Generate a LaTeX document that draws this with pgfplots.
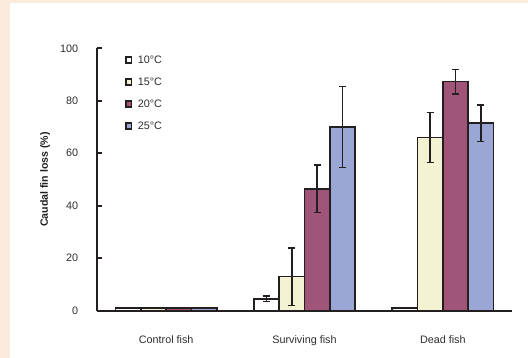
\documentclass[border=0pt]{standalone}
\usepackage{pgfplots}
\pgfplotsset{compat=1.18}
\usepackage{fontspec}
\setmainfont{Liberation Sans}
\definecolor{peach}{HTML}{FBEBDC}
\definecolor{edge}{HTML}{231F20}
\definecolor{cA}{HTML}{FFFFFF}
\definecolor{cB}{HTML}{F3F3D3}
\definecolor{cC}{HTML}{A05478}
\definecolor{cD}{HTML}{9AA6D3}
\definecolor{txt}{HTML}{2E2E2E}
\begin{document}
\begin{tikzpicture}[x=1pt,y=1pt]
\fill[peach] (0,0) rectangle (528,358);
\useasboundingbox (0,0) rectangle (528,358);
\fill[white] (9.5,0) rectangle (528,355);
\begin{axis}[
  at={(97pt,47.3pt)}, anchor=south west,
  scale only axis, width=415pt, height=262.4pt,
  xmin=-0.5, xmax=2.5, ymin=0, ymax=100,
  axis x line=bottom, axis y line=left,
  axis line style={-, line width=1.7pt, draw=edge},
  ytick={0,20,40,60,80,100},
  xtick={0,1,2},
  xticklabels={Control fish,Surviving fish,Dead fish},
  x tick style={draw=none},
  y tick style={line width=1.7pt, draw=edge},
  major tick length=4.5pt,
  tick align=inside,
  /pgf/number format/assume math mode=true,
  ticklabel style={font=\fontsize{10.8}{12}\selectfont, text=txt},
  xticklabel style={anchor=base, yshift=-28.6pt, inner sep=0pt},
  yticklabel style={anchor=east, inner sep=0pt, xshift=-18.7pt},
  ylabel={Caudal fin loss (\%)},
  ylabel style={at={(axis description cs:-0.125,0.5)}, anchor=center, font=\bfseries\fontsize{10.6}{12}\selectfont, text=edge},
  ybar=0pt, bar width=25.4pt,
  every axis plot/.append style={draw=edge, line width=1.7pt},
  error bars/y dir=both, error bars/y explicit,
  error bars/error bar style={line width=1.7pt, draw=edge},
  error bars/error mark options={rotate=90, mark size=3.5pt, line width=1.7pt, draw=edge},
  legend image code/.code={\draw[line width=1.7pt, draw=edge] (0pt,-2.8pt) rectangle (5.6pt,2.8pt);},
  legend style={at={(rel axis cs:0.067,0.970)}, anchor=north west, draw=none, fill=none,
    inner sep=0pt, row sep=14.5pt, column sep=5.6pt,
    cells={anchor=west},
    nodes={inner sep=0pt, text height=7.5pt, text depth=0pt, font=\fontsize{10.8}{12}\selectfont, text=txt}},
  clip=false,
]
\addplot[fill=cA] coordinates {(0,1) +- (0,0) (1,4.5) +- (0,1.0) (2,1) +- (0,0)};
\addplot[fill=cB] coordinates {(0,1) +- (0,0) (1,13) +- (0,11) (2,66) +- (0,9.5)};
\addplot[fill=cC] coordinates {(0,1) +- (0,0) (1,46.4) +- (0,9) (2,87.3) +- (0,4.6)};
\addplot[fill=cD] coordinates {(0,1) +- (0,0) (1,70) +- (0,15.4) (2,71.5) +- (0,7)};
\legend{10°C,15°C,20°C,25°C}
\end{axis}
\end{tikzpicture}
\end{document}
